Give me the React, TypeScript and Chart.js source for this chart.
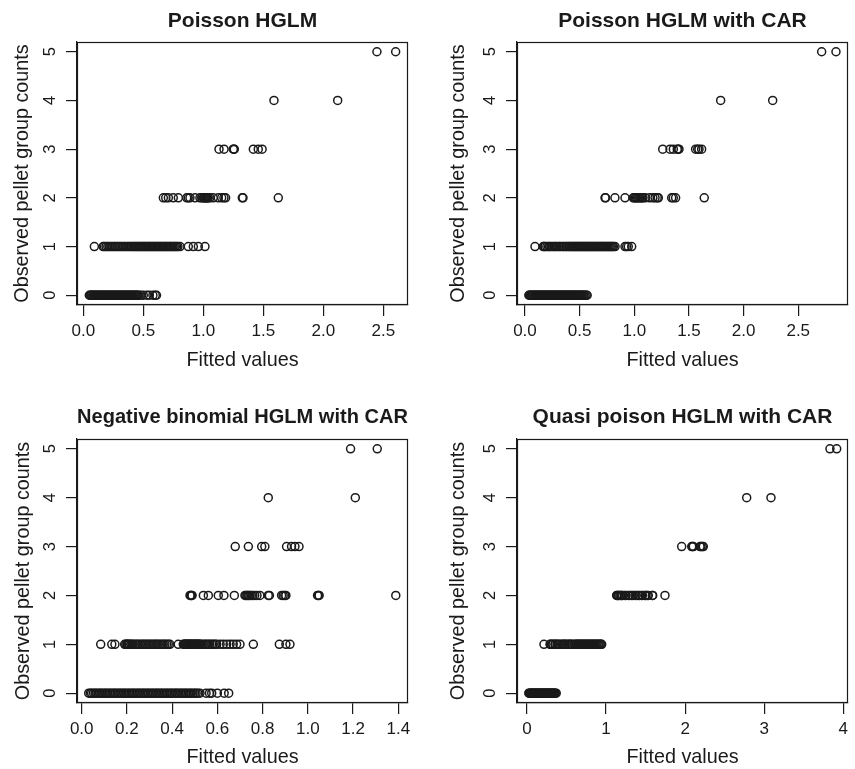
import React, { useEffect, useRef } from 'react';
import { Chart, registerables } from 'chart.js';

Chart.register(...registerables);

const FONT = '"Liberation Sans", Arial, Helvetica, sans-serif';
const INK = '#1a1a1a';

const countLevels = [0, 1, 2, 3, 4, 5];
const yTicks = [0, 1, 2, 3, 4, 5];
const xAxisTitle = 'Fitted values';
const yAxisTitle = 'Observed pellet group counts';

// ---------- Poisson HGLM ----------
const poissonTicks = [0, 0.5, 1, 1.5, 2, 2.5];
const poissonL0 = [0.05, 0.058, 0.064, 0.071, 0.079, 0.086, 0.092, 0.101, 0.108, 0.115, 0.123, 0.131, 0.137, 0.146, 0.153, 0.161, 0.168, 0.177, 0.184, 0.192, 0.199, 0.207, 0.215, 0.222, 0.231, 0.238, 0.246, 0.253, 0.262, 0.269, 0.277, 0.285, 0.292, 0.301, 0.308, 0.316, 0.323, 0.331, 0.339, 0.346, 0.354, 0.362, 0.37, 0.377, 0.385, 0.393, 0.401, 0.408, 0.416, 0.424, 0.432, 0.44, 0.447, 0.455, 0.463, 0.48, 0.5, 0.53, 0.55, 0.58, 0.6, 0.61];
const poissonL1 = [0.092, 0.165, 0.176, 0.19, 0.204, 0.216, 0.231, 0.243, 0.258, 0.27, 0.284, 0.297, 0.311, 0.323, 0.338, 0.35, 0.364, 0.377, 0.39, 0.402, 0.414, 0.425, 0.436, 0.447, 0.458, 0.468, 0.479, 0.489, 0.5, 0.51, 0.52, 0.531, 0.541, 0.551, 0.562, 0.572, 0.582, 0.593, 0.603, 0.613, 0.624, 0.634, 0.644, 0.655, 0.665, 0.675, 0.686, 0.696, 0.706, 0.717, 0.727, 0.737, 0.748, 0.758, 0.768, 0.779, 0.789, 0.806, 0.875, 0.917, 0.959, 1.014];
const poissonL2 = [0.667, 0.687, 0.709, 0.75, 0.792, 0.862, 0.875, 0.889, 0.931, 0.972, 0.986, 1.0, 1.007, 1.014, 1.021, 1.028, 1.035, 1.042, 1.056, 1.083, 1.125, 1.153, 1.172, 1.186, 1.325, 1.331, 1.625];
const poissonL3 = [1.131, 1.173, 1.25, 1.255, 1.258, 1.417, 1.458, 1.49];
const poissonL4 = [1.589, 2.12];
const poissonL5 = [2.447, 2.603];

// ---------- Poisson HGLM with CAR ----------
const carTicks = [0, 0.5, 1, 1.5, 2, 2.5];
const carL0 = [0.035, 0.043, 0.05, 0.058, 0.066, 0.074, 0.081, 0.089, 0.097, 0.105, 0.112, 0.12, 0.128, 0.136, 0.143, 0.151, 0.159, 0.167, 0.174, 0.182, 0.19, 0.198, 0.205, 0.213, 0.221, 0.229, 0.236, 0.244, 0.252, 0.26, 0.267, 0.275, 0.283, 0.291, 0.298, 0.306, 0.314, 0.322, 0.329, 0.337, 0.345, 0.353, 0.36, 0.368, 0.376, 0.384, 0.391, 0.399, 0.407, 0.415, 0.422, 0.43, 0.438, 0.446, 0.453, 0.461, 0.469, 0.477, 0.484, 0.492, 0.5, 0.508, 0.515, 0.523, 0.531, 0.539, 0.55, 0.56, 0.569];
const carL1 = [0.0915, 0.167, 0.175, 0.185, 0.2, 0.215, 0.225, 0.24, 0.255, 0.27, 0.28, 0.295, 0.31, 0.32, 0.335, 0.35, 0.36, 0.375, 0.385, 0.4, 0.41, 0.42, 0.43, 0.44, 0.45, 0.46, 0.47, 0.48, 0.49, 0.5, 0.51, 0.52, 0.53, 0.54, 0.55, 0.56, 0.57, 0.58, 0.59, 0.6, 0.61, 0.62, 0.63, 0.64, 0.65, 0.66, 0.67, 0.68, 0.69, 0.7, 0.71, 0.72, 0.73, 0.74, 0.75, 0.76, 0.77, 0.78, 0.79, 0.8, 0.81, 0.824, 0.915, 0.93, 0.945, 0.976];
const carL2 = [0.732, 0.738, 0.823, 0.915, 0.99, 1.0, 1.01, 1.02, 1.03, 1.04, 1.05, 1.06, 1.07, 1.08, 1.1, 1.14, 1.17, 1.19, 1.21, 1.22, 1.342, 1.357, 1.378, 1.64];
const carL3 = [1.26, 1.327, 1.357, 1.393, 1.4, 1.409, 1.561, 1.58, 1.592, 1.616];
const carL4 = [1.79, 2.266];
const carL5 = [2.714, 2.845];

// ---------- Negative binomial HGLM with CAR ----------
const nbTicks = [0, 0.2, 0.4, 0.6, 0.8, 1.0, 1.2, 1.4];
const nbL0 = [0.031, 0.038, 0.044, 0.052, 0.059, 0.065, 0.073, 0.08, 0.086, 0.094, 0.101, 0.107, 0.115, 0.122, 0.128, 0.136, 0.143, 0.149, 0.157, 0.164, 0.17, 0.178, 0.185, 0.191, 0.199, 0.206, 0.212, 0.22, 0.227, 0.233, 0.241, 0.248, 0.254, 0.262, 0.269, 0.275, 0.283, 0.29, 0.296, 0.304, 0.311, 0.317, 0.325, 0.332, 0.338, 0.346, 0.353, 0.359, 0.367, 0.374, 0.38, 0.388, 0.395, 0.401, 0.409, 0.416, 0.422, 0.43, 0.437, 0.443, 0.451, 0.458, 0.464, 0.472, 0.479, 0.485, 0.493, 0.5, 0.506, 0.514, 0.523, 0.55, 0.565, 0.575, 0.6, 0.63, 0.65];
const nbL1 = [0.084, 0.133, 0.147, 0.19, 0.195, 0.2, 0.203, 0.206, 0.211, 0.217, 0.222, 0.228, 0.236, 0.243, 0.25, 0.258, 0.266, 0.273, 0.28, 0.287, 0.295, 0.302, 0.31, 0.317, 0.324, 0.331, 0.338, 0.346, 0.354, 0.361, 0.368, 0.376, 0.383, 0.39, 0.427, 0.449, 0.453, 0.457, 0.461, 0.464, 0.468, 0.472, 0.476, 0.479, 0.483, 0.486, 0.49, 0.494, 0.498, 0.501, 0.505, 0.508, 0.512, 0.516, 0.52, 0.523, 0.53, 0.538, 0.546, 0.553, 0.56, 0.567, 0.575, 0.582, 0.59, 0.597, 0.612, 0.626, 0.641, 0.656, 0.67, 0.685, 0.7, 0.759, 0.874, 0.903, 0.921];
const nbL2 = [0.479, 0.482, 0.486, 0.488, 0.538, 0.56, 0.604, 0.629, 0.675, 0.722, 0.726, 0.731, 0.735, 0.739, 0.744, 0.75, 0.757, 0.765, 0.775, 0.788, 0.825, 0.83, 0.884, 0.891, 0.898, 0.903, 1.043, 1.047, 1.05, 1.389];
const nbL3 = [0.679, 0.737, 0.796, 0.81, 0.906, 0.928, 0.943, 0.961];
const nbL4 = [0.825, 1.21];
const nbL5 = [1.189, 1.307];

// ---------- Quasi poison HGLM with CAR ----------
const quasiTicks = [0, 1, 2, 3, 4];
const quasiL0 = [0.023, 0.031, 0.04, 0.048, 0.057, 0.066, 0.074, 0.083, 0.091, 0.1, 0.109, 0.117, 0.126, 0.134, 0.143, 0.152, 0.16, 0.169, 0.177, 0.186, 0.195, 0.203, 0.212, 0.22, 0.229, 0.238, 0.246, 0.255, 0.263, 0.272, 0.281, 0.289, 0.298, 0.306, 0.315, 0.324, 0.332, 0.341, 0.349, 0.358, 0.37];
const quasiL1 = [0.215, 0.291, 0.3, 0.32, 0.33, 0.354, 0.36, 0.38, 0.396, 0.41, 0.438, 0.45, 0.47, 0.48, 0.5, 0.522, 0.53, 0.55, 0.565, 0.58, 0.607, 0.62, 0.632, 0.645, 0.66, 0.672, 0.685, 0.7, 0.712, 0.725, 0.74, 0.752, 0.765, 0.78, 0.792, 0.805, 0.82, 0.832, 0.845, 0.86, 0.872, 0.885, 0.9, 0.912, 0.925, 0.935, 0.945];
const quasiL2 = [1.134, 1.14, 1.155, 1.16, 1.176, 1.19, 1.197, 1.21, 1.239, 1.25, 1.281, 1.3, 1.323, 1.34, 1.366, 1.38, 1.408, 1.42, 1.45, 1.46, 1.492, 1.5, 1.52, 1.534, 1.585, 1.59, 1.745];
const quasiL3 = [1.956, 2.083, 2.095, 2.103, 2.188, 2.2, 2.217, 2.23];
const quasiL4 = [2.778, 3.085];
const quasiL5 = [3.831, 3.916];

type PanelProps = {
  title: string;
  canvasRect: [number, number, number, number];
  box: [number, number, number, number];
  xMin: number;
  xMax: number;
  xTicks: number[];
  xDecimals: number;
  levels: number[][];
  titleY: number;
  xTitleY: number;
  yTitleX: number;
};

function Panel(p: PanelProps) {
  const ref = useRef<HTMLCanvasElement | null>(null);
  const [cl, ct, cw, ch] = p.canvasRect;
  useEffect(() => {
    const [bl, bt, br, bb] = p.box;
    const titleSize = 21;
    const titleLH = titleSize * 1.2;
    const titlePadTop = p.titleY - ct - titleLH / 2;
    const titlePadBottom = bt - ct - titleLH - titlePadTop;
    const axisTitleSize = 19.8;
    const axisLH = axisTitleSize * 1.2;
    const xTitlePadBottom = Math.max(0, ct + ch - p.xTitleY - axisLH / 2);
    const yTitlePadTop = p.yTitleX - cl - axisLH / 2;

    const data: { x: number; y: number }[] = [];
    p.levels.forEach((xs, i) => xs.forEach((x) => data.push({ x, y: countLevels[i] })));

    const boxPlugin = {
      id: 'plotBox',
      afterDatasetsDraw(chart: any) {
        const { ctx, chartArea: a } = chart;
        ctx.save();
        ctx.strokeStyle = INK;
        ctx.lineWidth = 1.2;
        const l = Math.round(a.left) + 0.5;
        const t = Math.round(a.top) + 0.5;
        const r = Math.round(a.right) - 0.5;
        const b = Math.round(a.bottom) - 0.5;
        ctx.strokeRect(l, t, r - l, b - t);
        ctx.restore();
      },
    };

    const chart = new Chart(ref.current as HTMLCanvasElement, {
      type: 'scatter',
      data: {
        datasets: [
          {
            data,
            pointRadius: 4,
            pointHoverRadius: 4,
            pointStyle: 'circle',
            borderColor: INK,
            backgroundColor: 'rgba(0,0,0,0)',
            borderWidth: 1.5,
          },
        ],
      },
      options: {
        animation: false,
        responsive: false,
        events: [],
        layout: { padding: { left: 0, top: 0, right: cl + cw - br, bottom: 0 } },
        plugins: {
          legend: { display: false },
          tooltip: { enabled: false },
          title: {
            display: true,
            text: p.title,
            fullSize: false,
            color: INK,
            font: { family: FONT, size: titleSize, weight: 'bold', lineHeight: 1.2 },
            padding: { top: titlePadTop, bottom: titlePadBottom },
          },
        },
        scales: {
          x: {
            type: 'linear',
            position: 'bottom',
            min: p.xMin,
            max: p.xMax,
            afterBuildTicks: (s: any) => {
              s.ticks = p.xTicks.map((v) => ({ value: v }));
            },
            afterFit: (s: any) => {
              s.height = ct + ch - bb;
            },
            grid: { display: true, drawOnChartArea: false, drawTicks: true, tickLength: 11, color: INK, lineWidth: 1.2 },
            border: { display: true, color: INK, width: 1.2 },
            ticks: {
              autoSkip: false,
              minRotation: 0,
              maxRotation: 0,
              padding: 5,
              color: INK,
              font: { family: FONT, size: 17 },
              callback: (v: any) => Number(v).toFixed(p.xDecimals),
            },
            title: {
              display: true,
              text: xAxisTitle,
              color: INK,
              font: { family: FONT, size: axisTitleSize, lineHeight: 1.2 },
              padding: { top: 0, bottom: xTitlePadBottom },
            },
          },
          y: {
            type: 'linear',
            position: 'left',
            min: -0.2,
            max: 5.2,
            afterBuildTicks: (s: any) => {
              s.ticks = yTicks.map((v) => ({ value: v }));
            },
            afterFit: (s: any) => {
              s.width = bl - cl;
            },
            grid: { display: true, drawOnChartArea: false, drawTicks: true, tickLength: 11, color: INK, lineWidth: 1.2 },
            border: { display: true, color: INK, width: 1.2 },
            ticks: {
              autoSkip: false,
              minRotation: 90,
              maxRotation: 90,
              crossAlign: 'center',
              padding: 11,
              color: INK,
              font: { family: FONT, size: 16.5 },
              callback: (v: any) => String(Math.round(Number(v))),
            },
            title: {
              display: true,
              text: yAxisTitle,
              color: INK,
              font: { family: FONT, size: axisTitleSize, lineHeight: 1.2 },
              padding: { top: yTitlePadTop, bottom: 0 },
            },
          },
        },
      } as any,
      plugins: [boxPlugin],
    });
    return () => chart.destroy();
  }, []);
  return (
    <canvas
      ref={ref}
      width={cw}
      height={ch}
      style={{ position: 'absolute', left: cl, top: ct, width: cw, height: ch }}
    />
  );
}

export default function App() {
  return (
    <div style={{ position: 'absolute', left: 0, top: 0, width: 855, height: 769, background: '#fff', overflow: 'hidden' }}>
      <Panel
        title="Poisson HGLM"
        canvasRect={[0, 0, 427, 384]}
        box={[77, 42, 408, 305]}
        xMin={-0.0525}
        xMax={2.706}
        xTicks={poissonTicks}
        xDecimals={1}
        levels={[poissonL0, poissonL1, poissonL2, poissonL3, poissonL4, poissonL5]}
        titleY={21}
        xTitleY={360.5}
        yTitleX={23}
      />
      <Panel
        title="Poisson HGLM with CAR"
        canvasRect={[427, 0, 428, 384]}
        box={[517, 42, 848, 305]}
        xMin={-0.073}
        xMax={2.955}
        xTicks={carTicks}
        xDecimals={1}
        levels={[carL0, carL1, carL2, carL3, carL4, carL5]}
        titleY={21}
        xTitleY={360.5}
        yTitleX={458.4}
      />
      <Panel
        title="Negative binomial HGLM with CAR"
        canvasRect={[0, 384, 427, 385]}
        box={[77, 439, 408, 703]}
        xMin={-0.0208}
        xMax={1.443}
        xTicks={nbTicks}
        xDecimals={1}
        levels={[nbL0, nbL1, nbL2, nbL3, nbL4, nbL5]}
        titleY={417.7}
        xTitleY={757.5}
        yTitleX={23.3}
      />
      <Panel
        title="Quasi poison HGLM with CAR"
        canvasRect={[427, 384, 428, 385]}
        box={[517, 439, 848, 703]}
        xMin={-0.126}
        xMax={4.059}
        xTicks={quasiTicks}
        xDecimals={0}
        levels={[quasiL0, quasiL1, quasiL2, quasiL3, quasiL4, quasiL5]}
        titleY={417.7}
        xTitleY={757.5}
        yTitleX={458.3}
      />
    </div>
  );
}
